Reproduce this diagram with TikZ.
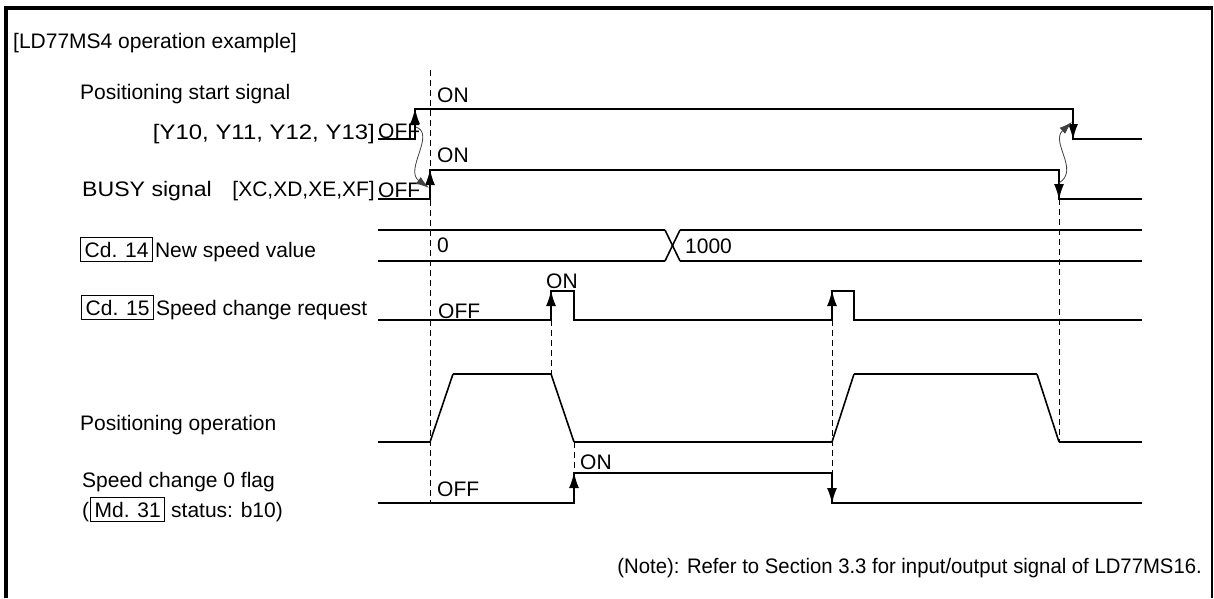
\documentclass[tikz,border=0pt]{standalone}
\usepackage{graphicx}
\usepackage{fontspec}
\setmainfont{Liberation Sans}
\usetikzlibrary{arrows.meta}
\setlength{\fboxsep}{3.5pt}
\setlength{\fboxrule}{1pt}
\begin{document}
\begin{tikzpicture}[x=1pt,y=-1pt,
  sig/.style={line width=2.5pt, line join=miter},
  slope/.style={line width=1.6pt},
  guide/.style={line width=0.9pt, dash pattern=on 6pt off 4pt},
  edgearrow/.style={line width=2pt, -{Latex[length=16pt,width=10pt]}},
  link/.style={line width=0.8pt, draw=black!75, -{Latex[length=13pt,width=8pt]}},
  lbl/.style={font=\fontsize{21}{25}\selectfont, inner sep=0pt, anchor=base west}
]
\useasboundingbox (0,0) rectangle (1214,598);
% frame
\draw[line width=4pt] (6,598) -- (6,8) -- (1213,8);
\draw[line width=1.3pt] (1212,8) -- (1212,598);

% texts
\node[lbl] (title) at (13,48) {[LD77MS4 operation example]};
\node[lbl] (pss) at (80,99) {Positioning start signal};
\node[lbl, anchor=base east] (yy) at (375,139) {\scalebox{1.14}[1]{[Y10, Y11, Y12, Y13]}};
\node[lbl] (off1) at (378,138) {OFF};
\node[lbl] (busy) at (82,196) {\scalebox{1.1}[1]{BUSY signal}};
\node[lbl, anchor=base east] (xx) at (375,196) {[XC,XD,XE,XF]};
\node[lbl] (off2) at (378,197) {OFF};
\node[lbl] (cd14) at (80,257) {\fbox{Cd. 14}\hspace{2pt}New speed value};
\node[lbl] (cd15) at (81,315) {\fbox{Cd. 15}\hspace{2pt}Speed change request};
\node[lbl] (pop) at (80,430) {Positioning operation};
\node[lbl] (scf) at (82,487) {Speed change 0 flag};
\node[lbl] (md31) at (82,517) {(\kern1pt\fbox{Md. 31} status: b10)};
\node[lbl, anchor=base east] (note) at (1202,573) {\scalebox{0.967}[1]{(Note): Refer to Section 3.3 for input/output signal of LD77MS16.}};

\node[lbl] (on1) at (437,102) {ON};
\node[lbl] (on2) at (437,162) {ON};
\node[lbl] (v0) at (437,252) {0};
\node[lbl] (v1000) at (685,253) {1000};
\node[lbl] (on3) at (546,288) {ON};
\node[lbl] (off3) at (438,318) {OFF};
\node[lbl] (on4) at (580,469) {ON};
\node[lbl] (off4) at (437,496) {OFF};

% dashed guides
\draw[guide] (430,70) -- (430,503);
\draw[guide] (551,320) -- (551,374);
\draw[guide] (574,442) -- (574,473);
\draw[guide] (832,320) -- (832,473);
\draw[guide] (1059,199) -- (1059,442);

% positioning start signal
\draw[sig] (378,139) -- (415,139) -- (415,109) -- (1073,109) -- (1073,139) -- (1142,139);
\draw[edgearrow] (415,132) -- (415,108);
\draw[edgearrow] (1073,116) -- (1073,140);

% BUSY
\draw[sig] (378,199) -- (430,199) -- (430,170) -- (1059,170) -- (1059,199) -- (1142,199);
\draw[edgearrow] (430,193) -- (430,169);
\draw[edgearrow] (1059,176) -- (1059,200);

% Cd.14
\draw[sig] (378,230) -- (665,230);
\draw[sig] (378,261) -- (665,261);
\draw[sig] (680,230) -- (1142,230);
\draw[sig] (680,261) -- (1142,261);
\draw[slope] (665,230) -- (680,261);
\draw[slope] (665,261) -- (680,230);

% Cd.15
\draw[sig] (378,320) -- (551,320) -- (551,291) -- (574,291) -- (574,320) -- (832,320) -- (832,291) -- (854,291) -- (854,320) -- (1142,320);
\draw[edgearrow] (551,314) -- (551,290);
\draw[edgearrow] (832,314) -- (832,290);

% positioning operation
\draw[sig] (378,442) -- (430,442);
\draw[slope] (430,442) -- (453,374);
\draw[sig] (453,374) -- (551,374);
\draw[slope] (551,374) -- (574,442);
\draw[sig] (574,442) -- (832,442);
\draw[slope] (832,442) -- (854,374);
\draw[sig] (854,374) -- (1037,374);
\draw[slope] (1037,374) -- (1059,442);
\draw[sig] (1059,442) -- (1142,442);

% speed change 0 flag
\draw[sig] (378,503) -- (574,503) -- (574,473) -- (832,473) -- (832,503) -- (1142,503);
\draw[edgearrow] (574,497) -- (574,472);
\draw[edgearrow] (832,480) -- (832,504);

% causal links
\coordinate (la) at (416,127);
\coordinate (lb) at (429,188);
\coordinate (lc) at (1059,183);
\coordinate (ld) at (1072,122);
\draw[link] (la) .. controls (436,134) and (404,170) .. (lb);
\draw[link] (lc) .. controls (1080,170) and (1050,142) .. (ld);
\end{tikzpicture}
\end{document}
